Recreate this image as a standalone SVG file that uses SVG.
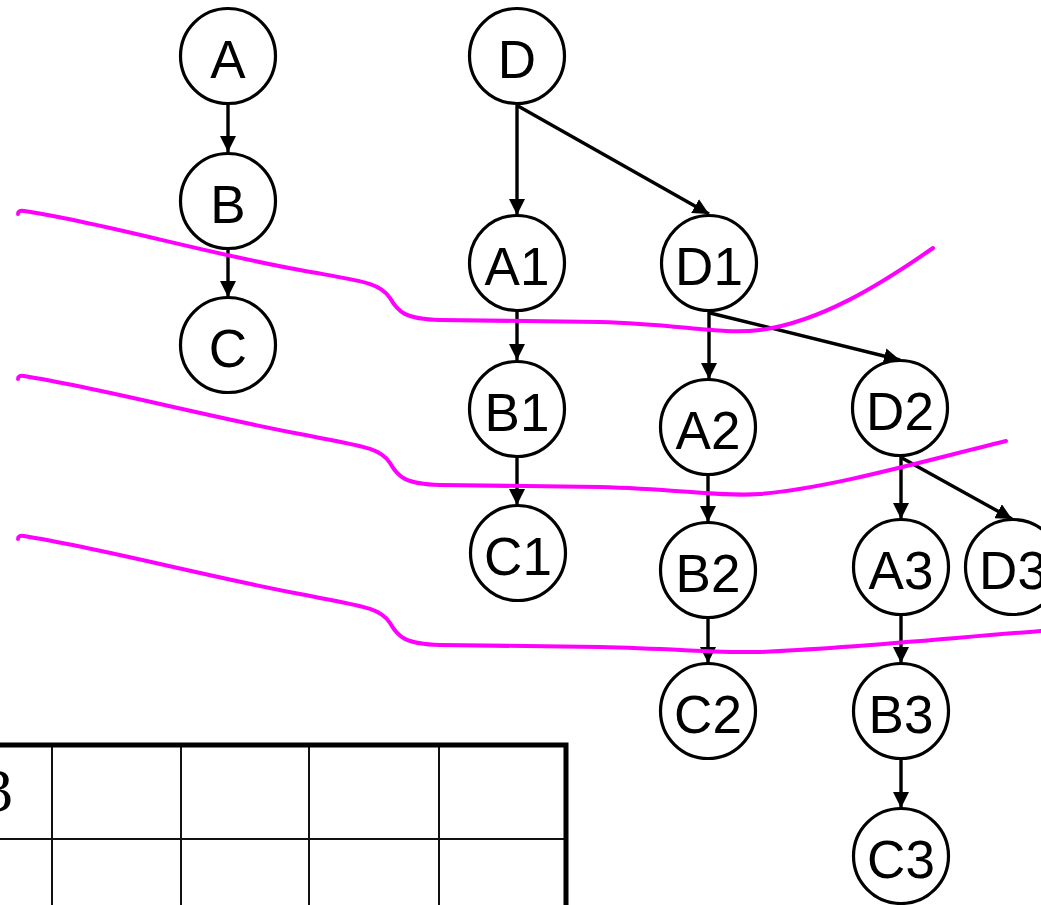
<svg xmlns="http://www.w3.org/2000/svg" width="1041" height="905" viewBox="0 0 1041 905">
<style>
.n circle{fill:#fff;stroke:#000;stroke-width:3.2}
.n text{font-family:"Liberation Sans",Arial,sans-serif;font-size:53px;text-anchor:middle;fill:#000}
.e line{stroke:#000;stroke-width:3.4;marker-end:url(#ah)}
.cut{fill:none;stroke:#ff00ff;stroke-width:4;stroke-linecap:round}
.grid{stroke:#111;stroke-width:2;fill:none}
.border{stroke:#000;stroke-width:5;fill:none}
</style>
<defs>
<marker id="ah" markerUnits="userSpaceOnUse" markerWidth="16" markerHeight="16" refX="16" refY="8" orient="auto">
<path d="M0,0 L16,8 L0,16 z" fill="#000"/>
</marker>
</defs>
<rect width="1041" height="905" fill="#fff"/>
<g id="table">
<line class="grid" x1="52" y1="745" x2="52" y2="905"/>
<line class="grid" x1="181" y1="745" x2="181" y2="905"/>
<line class="grid" x1="309" y1="745" x2="309" y2="905"/>
<line class="grid" x1="439" y1="745" x2="439" y2="905"/>
<line class="grid" x1="0" y1="839" x2="566" y2="839"/>
<path class="border" d="M0,745 L566,745 L566,905"/>
<text x="-18" y="811" font-family="Liberation Serif,'Times New Roman',serif" font-size="62">3</text>
</g>
<g id="connectors" class="e">
<line x1="228" y1="105" x2="228" y2="152"/>
<line x1="228" y1="249" x2="228" y2="297"/>
<line x1="517" y1="105" x2="517" y2="215"/>
<line x1="518" y1="106" x2="709" y2="214"/>
<line x1="517" y1="311" x2="517" y2="360"/>
<line x1="517" y1="457" x2="517" y2="505"/>
<line x1="709" y1="312" x2="709" y2="379"/>
<line x1="710" y1="313" x2="900" y2="360"/>
<line x1="708" y1="475" x2="708" y2="522"/>
<line x1="708" y1="618" x2="708" y2="663"/>
<line x1="901" y1="457" x2="901" y2="519"/>
<line x1="902" y1="458" x2="1012" y2="519"/>
<line x1="901" y1="615" x2="901" y2="663"/>
<line x1="901" y1="760" x2="901" y2="808"/>
</g>
<g id="A" class="n"><circle cx="228" cy="56" r="47.5"/><text x="228" y="78">A</text></g>
<g id="B" class="n"><circle cx="228" cy="201" r="47.5"/><text x="228" y="223">B</text></g>
<g id="C" class="n"><circle cx="228" cy="345" r="47.5"/><text x="228" y="367">C</text></g>
<g id="D" class="n"><circle cx="517" cy="56" r="47.5"/><text x="517" y="78">D</text></g>
<g id="A1" class="n"><circle cx="517" cy="263" r="47.5"/><text x="517" y="285">A1</text></g>
<g id="B1" class="n"><circle cx="517" cy="409" r="47.5"/><text x="517" y="431">B1</text></g>
<g id="C1" class="n"><circle cx="518" cy="553" r="47.5"/><text x="518" y="575">C1</text></g>
<g id="D1" class="n"><circle cx="709" cy="263" r="47.5"/><text x="709" y="285">D1</text></g>
<g id="A2" class="n"><circle cx="708" cy="427" r="47.5"/><text x="708" y="449">A2</text></g>
<g id="B2" class="n"><circle cx="708" cy="570" r="47.5"/><text x="708" y="592">B2</text></g>
<g id="C2" class="n"><circle cx="708" cy="711" r="47.5"/><text x="708" y="733">C2</text></g>
<g id="D2" class="n"><circle cx="900" cy="408" r="47.5"/><text x="900" y="430">D2</text></g>
<g id="A3" class="n"><circle cx="901" cy="567" r="47.5"/><text x="901" y="589">A3</text></g>
<g id="D3" class="n"><circle cx="1013" cy="567" r="47.5"/><text x="1013" y="589">D3</text></g>
<g id="B3" class="n"><circle cx="901" cy="711" r="47.5"/><text x="901" y="733">B3</text></g>
<g id="C3" class="n"><circle cx="901" cy="856" r="47.5"/><text x="901" y="878">C3</text></g>
<g id="cuts">
<path class="cut" d="M18,214 Q18,210 24,211 C100,222 200,252 300,270 C360,281 380,282 390,298 C398,312 405,319 440,320 L600,322 C680,324 720,335 760,330 C820,322 880,285 933,248"/>
<path class="cut" d="M18,379 Q18,375 24,376 C100,388 200,415 300,434 C360,446 380,447 390,463 C398,477 405,484 440,485 L600,487 C680,489 720,497 760,494 C830,488 920,462 1006,441"/>
<path class="cut" d="M18,539 Q18,535 24,536 C100,548 200,575 300,594 C360,606 380,607 390,623 C398,637 405,644 440,645 L600,647 C680,649 720,653 760,652 C850,648 950,638 1041,631"/>
</g>
</svg>
